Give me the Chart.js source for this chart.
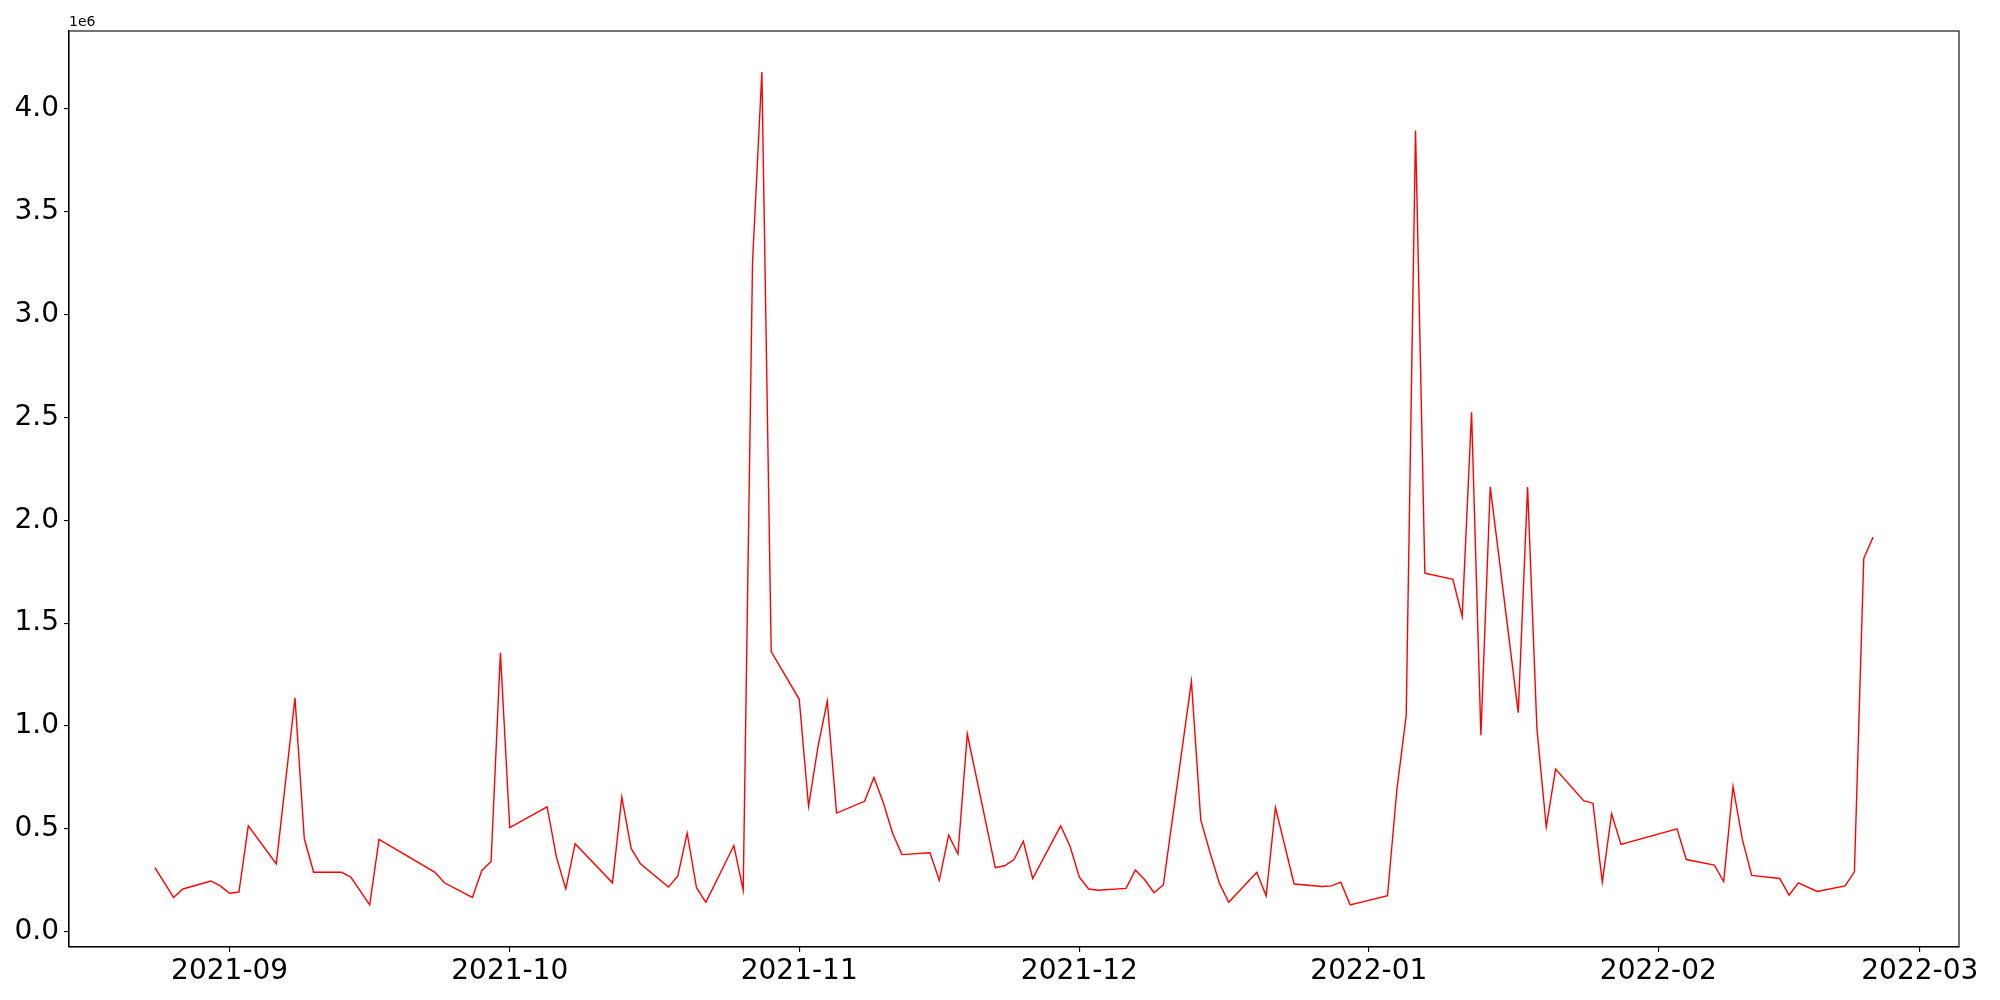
<!DOCTYPE html>
<html>
<head>
<meta charset="utf-8">
<script src="https://cdn.jsdelivr.net/npm/chart.js@4.4.1/dist/chart.umd.min.js"></script>
<style>
  html, body { margin: 0; padding: 0; background: #fff; }
  #chart { display: block; }
</style>
</head>
<body>
<canvas id="chart" width="2000" height="1000" style="width:2000px;height:1000px"></canvas>
<script>
// dates of each observation (gaps = days with no data)
const dates = [
    '2021-08-24', '2021-08-26', '2021-08-27', '2021-08-30', '2021-08-31',
    '2021-09-01', '2021-09-02', '2021-09-03', '2021-09-06', '2021-09-08',
    '2021-09-09', '2021-09-10', '2021-09-13', '2021-09-14', '2021-09-16',
    '2021-09-17', '2021-09-23', '2021-09-24', '2021-09-27', '2021-09-28',
    '2021-09-29', '2021-09-30', '2021-10-01', '2021-10-05', '2021-10-06',
    '2021-10-07', '2021-10-08', '2021-10-12', '2021-10-13', '2021-10-14',
    '2021-10-15', '2021-10-18', '2021-10-19', '2021-10-20', '2021-10-21',
    '2021-10-22', '2021-10-25', '2021-10-26', '2021-10-27', '2021-10-28',
    '2021-10-29', '2021-11-01', '2021-11-02', '2021-11-03', '2021-11-04',
    '2021-11-05', '2021-11-08', '2021-11-09', '2021-11-10', '2021-11-11',
    '2021-11-12', '2021-11-15', '2021-11-16', '2021-11-17', '2021-11-18',
    '2021-11-19', '2021-11-22', '2021-11-23', '2021-11-24', '2021-11-25',
    '2021-11-26', '2021-11-29', '2021-11-30', '2021-12-01', '2021-12-02',
    '2021-12-03', '2021-12-06', '2021-12-07', '2021-12-08', '2021-12-09',
    '2021-12-10', '2021-12-13', '2021-12-14', '2021-12-15', '2021-12-16',
    '2021-12-17', '2021-12-20', '2021-12-21', '2021-12-22', '2021-12-24',
    '2021-12-27', '2021-12-28', '2021-12-29', '2021-12-30', '2022-01-03',
    '2022-01-04', '2022-01-05', '2022-01-06', '2022-01-07', '2022-01-10',
    '2022-01-11', '2022-01-12', '2022-01-13', '2022-01-14', '2022-01-17',
    '2022-01-18', '2022-01-19', '2022-01-20', '2022-01-21', '2022-01-24',
    '2022-01-25', '2022-01-26', '2022-01-27', '2022-01-28', '2022-02-03',
    '2022-02-04', '2022-02-07', '2022-02-08', '2022-02-09', '2022-02-10',
    '2022-02-11', '2022-02-14', '2022-02-15', '2022-02-16', '2022-02-18',
    '2022-02-21', '2022-02-22', '2022-02-23', '2022-02-24'
];

// value on each date
const values = [
    312000, 167000, 208000, 247000, 223000,
    187000, 193000, 515000, 330000, 1136000,
    452000, 289000, 289000, 265000, 131000,
    449000, 289000, 238000, 167000, 297000,
    342000, 1356000, 506000, 607000, 363000,
    208000, 428000, 238000, 654000, 405000,
    330000, 217000, 271000, 479000, 214000,
    143000, 419000, 202000, 3254000, 4179000,
    1362000, 1130000, 610000, 898000, 1121000,
    577000, 634000, 750000, 628000, 479000,
    375000, 384000, 250000, 470000, 378000,
    961000, 312000, 321000, 351000, 440000,
    259000, 515000, 416000, 265000, 208000,
    202000, 211000, 300000, 253000, 190000,
    229000, 1217000, 544000, 384000, 235000,
    143000, 289000, 175000, 604000, 232000,
    220000, 223000, 241000, 131000, 175000,
    690000, 1050000, 3894000, 1743000, 1713000,
    1532000, 2525000, 955000, 2162000, 1065000,
    2162000, 987000, 509000, 791000, 637000,
    625000, 241000, 574000, 425000, 500000,
    351000, 324000, 244000, 705000, 449000,
    274000, 259000, 178000, 238000, 196000,
    223000, 291000, 1814000, 1918000
];

// x axis ticks (month starts) and their labels
const monthStarts = ['2021-09-01', '2021-10-01', '2021-11-01', '2021-12-01', '2022-01-01', '2022-02-01', '2022-03-01'];
const monthLabels = ['2021-09', '2021-10', '2021-11', '2021-12', '2022-01', '2022-02', '2022-03'];

// y axis ticks
const yTicks = [0, 500000, 1000000, 1500000, 2000000, 2500000, 3000000, 3500000, 4000000];
const yLabels = ['0.0', '0.5', '1.0', '1.5', '2.0', '2.5', '3.0', '3.5', '4.0'];

// day number counted from 2021-09-01
const BASE = Date.UTC(2021, 8, 1);
function dayNum(s) {
    const p = s.split('-').map(Number);
    return (Date.UTC(p[0], p[1] - 1, p[2]) - BASE) / 86400000;
}

const points = dates.map((d, i) => ({ x: dayNum(d), y: values[i] }));
const xTickVals = monthStarts.map(dayNum);

const FONT = 'DejaVu Sans';

// frame round the plot + the "1e6" offset text
const framePlugin = {
    id: 'frame',
    afterDraw(chart) {
        const a = chart.chartArea;
        const ctx = chart.ctx;
        ctx.save();
        ctx.strokeStyle = '#000';
        ctx.lineWidth = 1.1;
        ctx.strokeRect(a.left, a.top, a.right - a.left, a.bottom - a.top);
        ctx.fillStyle = '#000';
        ctx.font = '14px "' + FONT + '"';
        ctx.textAlign = 'left';
        ctx.textBaseline = 'alphabetic';
        ctx.fillText('1e6', a.left, a.top - 5);
        ctx.restore();
    }
};

new Chart(document.getElementById('chart'), {
    type: 'line',
    data: {
        datasets: [{
            data: points,
            borderColor: '#ff0000',
            borderWidth: 1.4,
            pointRadius: 0,
            tension: 0,
            fill: false
        }]
    },
    options: {
        responsive: false,
        animation: false,
        layout: { padding: { left: 0, top: 31, right: 41, bottom: 0 } },
        plugins: { legend: { display: false }, tooltip: { enabled: false } },
        scales: {
            x: {
                type: 'linear',
                min: -17.2,
                max: 185.2,
                afterBuildTicks(scale) {
                    scale.ticks = xTickVals.map(v => ({ value: v }));
                },
                afterFit(scale) { scale.height = 53; },
                ticks: {
                    color: '#000',
                    font: { family: FONT, size: 28 },
                    padding: 3,
                    maxRotation: 0,
                    autoSkip: false,
                    callback: (v) => monthLabels[xTickVals.indexOf(v)]
                },
                grid: { drawOnChartArea: false, drawTicks: true, tickLength: 5, color: '#000', lineWidth: 1.1 },
                border: { display: true, color: '#000', width: 1.1 }
            },
            y: {
                min: -74000,
                max: 4378000,
                afterBuildTicks(scale) {
                    scale.ticks = yTicks.map(v => ({ value: v }));
                },
                afterFit(scale) { scale.width = 69; },
                ticks: {
                    color: '#000',
                    font: { family: FONT, size: 28 },
                    padding: 5,
                    autoSkip: false,
                    callback: (v) => yLabels[yTicks.indexOf(v)]
                },
                grid: { drawOnChartArea: false, drawTicks: true, tickLength: 5, color: '#000', lineWidth: 1.1 },
                border: { display: true, color: '#000', width: 1.1 }
            }
        }
    },
    plugins: [framePlugin]
});
</script>
</body>
</html>
